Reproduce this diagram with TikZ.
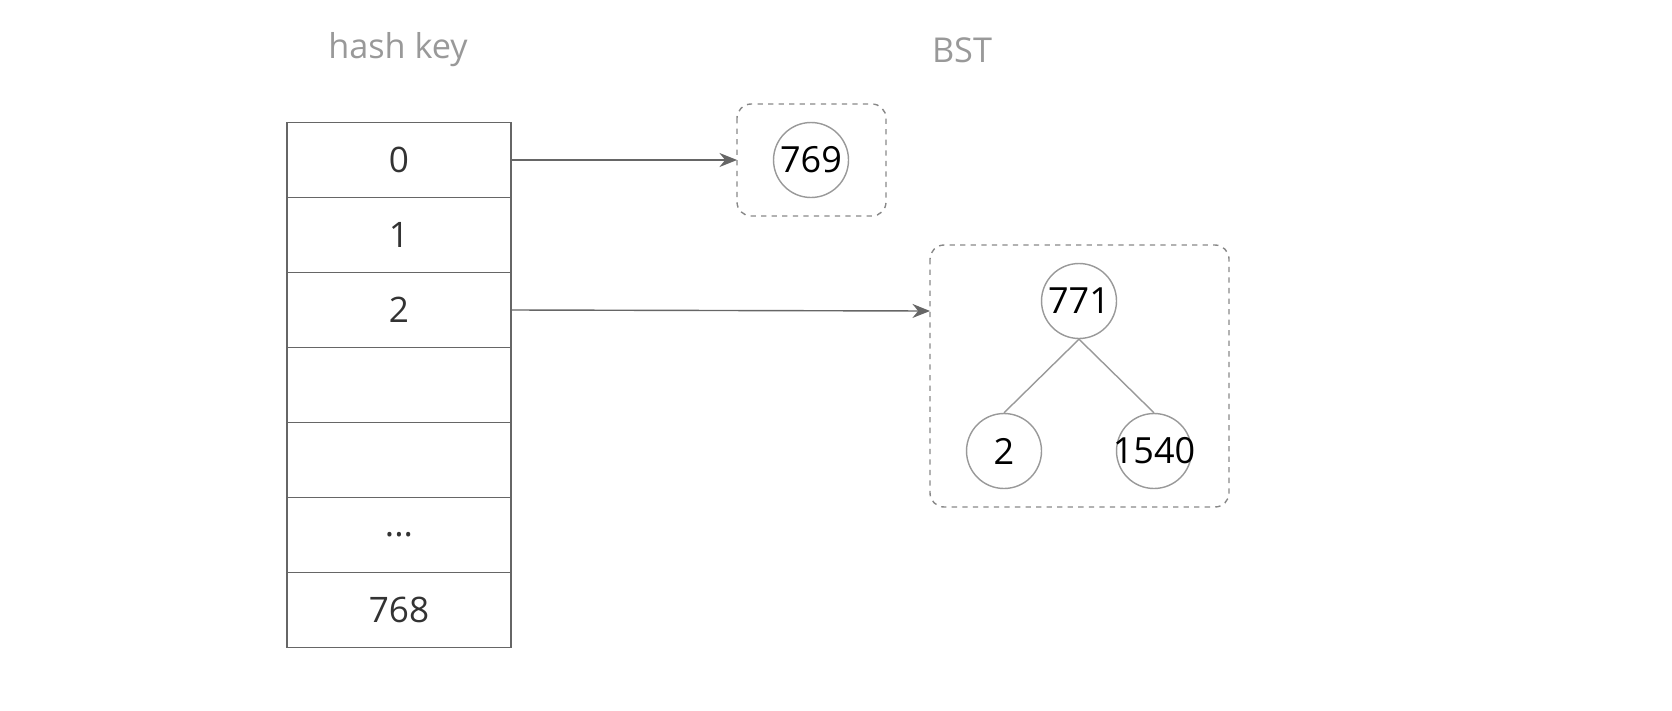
\documentclass[tikz,border=0pt]{standalone}
\usepackage{fontspec}
\setmainfont{Open Sans}
\usepackage{tikz}
\usetikzlibrary{arrows.meta}
\usetikzlibrary{positioning}

\definecolor{linegray}{HTML}{666666}
\definecolor{circgray}{HTML}{999999}
\definecolor{dashgray}{HTML}{888888}
\definecolor{titlegray}{HTML}{999999}
\definecolor{cellink}{HTML}{333333}

\newcommand{\rowdots}{...}
\newcommand{\bstval}[1]{\makebox[0pt]{#1}}

\begin{document}
\begin{tikzpicture}[x=0.02cm, y=-0.02cm,
    cell/.style = {draw=linegray, thick, minimum width=4.48cm, minimum height=1.5cm,
                   inner sep=0pt, text=cellink, font=\fontsize{20}{24}\selectfont},
    bstnode/.style = {circle, draw=circgray, thick, minimum size=1.5cm, inner sep=0pt,
                      font=\fontsize{20.5}{24}\selectfont},
    bucket/.style = {draw=dashgray, thick, dashed, rounded corners=8pt},
    title/.style = {text=titlegray, font=\fontsize{19.5}{24}\selectfont},
    ptr/.style = {draw=linegray, thick, -{Stealth[length=10pt,width=8pt]}}]

    \useasboundingbox (0,0) rectangle (1672,710);

    % titles
    \node[title] (keytitle) at (398,50) {hash key};
    \node[title] (bsttitle) at (962,50) {BST};

    % hash table
    \foreach \ii/\txt in {0/0,1/1,2/2,3/,4/,5/\rowdots,6/768}
    	{\node[cell] (row\ii) at (399,160+75*\ii) {\txt};}

    % buckets
    \draw[bucket] (737,104) rectangle (886,216);
    \draw[bucket] (930,245) rectangle (1229,507);
    \coordinate (bucketA) at (737,160);
    \coordinate (bucketB) at (930,311);

    % trees
    \node[bstnode] (n769) at (811,160) {\bstval{769}};
    \node[bstnode] (n771) at (1079,301) {\bstval{771}};
    \node[bstnode] (n2) at (1004,451) {\bstval{2}};
    \node[bstnode] (n1540) at (1154,451) {\bstval{1540}};

    \draw[circgray, thick] (n771.south) -- (n2.north);
    \draw[circgray, thick] (n771.south) -- (n1540.north);

    % pointers
    \draw[ptr] (row0.east) -- (bucketA);
    \draw[ptr] (row2.east) -- (bucketB);

\end{tikzpicture}
\end{document}
